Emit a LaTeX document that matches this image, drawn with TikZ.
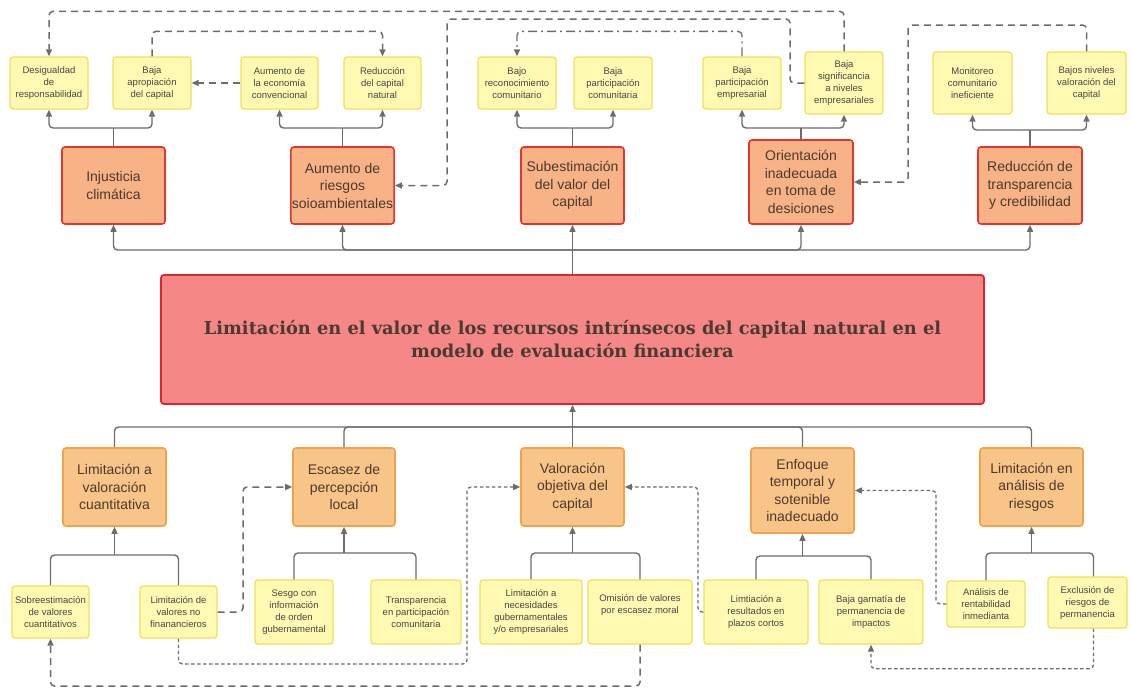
\documentclass[tikz,border=0pt]{standalone}
\usepackage{fontspec}
\setmainfont{Liberation Sans}
\newfontfamily\titlefont{DejaVu Serif}
\usetikzlibrary{arrows.meta}
\definecolor{yfill}{HTML}{FFF9B2}
\definecolor{yline}{HTML}{F0E05A}
\definecolor{tfill}{HTML}{F7B285}
\definecolor{tline}{HTML}{E2352C}
\definecolor{bfill}{HTML}{F9C487}
\definecolor{bline}{HTML}{EFA447}
\definecolor{cfill}{HTML}{F58787}
\definecolor{cline}{HTML}{E0242B}
\definecolor{txt}{HTML}{474747}
\definecolor{ttxt}{HTML}{4A3A30}
\definecolor{conn}{HTML}{6C6C6C}
\begin{document}
\begin{tikzpicture}[x=1pt,y=-1pt,
  sz/.style 2 args={minimum width=#1pt, minimum height=#2pt},
  ybox/.style={draw=yline, fill=yfill, line width=1.3pt, rounded corners=3pt, align=center, inner sep=1pt, text=txt, font=\fontsize{9.5}{12}\selectfont},
  tbox/.style={draw=tline, fill=tfill, line width=1.6pt, rounded corners=3pt, align=center, inner sep=1pt, text=ttxt, font=\fontsize{14}{17.5}\selectfont},
  bbox/.style={draw=bline, fill=bfill, line width=1.6pt, rounded corners=3pt, align=center, inner sep=1pt, text=ttxt, font=\fontsize{14}{17.5}\selectfont},
  cbox/.style={draw=cline, fill=cfill, line width=1.8pt, rounded corners=3pt, align=center, inner sep=1pt, text=ttxt, font=\titlefont\bfseries\fontsize{17.8}{23}\selectfont},
  line/.style={draw=conn, line width=1.4pt, rounded corners=4pt},
  arr/.style={line, -{Triangle[length=7pt,width=6pt]}},
  dashlong/.style={arr, line width=1.5pt, dash pattern=on 7pt off 5pt},
  dashshort/.style={arr, line width=1.3pt, dash pattern=on 3.5pt off 2.5pt},
  dashdot/.style={arr, line width=1.3pt, dash pattern=on 9pt off 4pt on 2pt off 4pt},
]
\useasboundingbox (0,0) rectangle (1132,688);

% ---------- top yellow boxes
\node[ybox, sz={78}{52}] (d1) at (49,83) {Desigualdad\\de\\responsabilidad};
\node[ybox, sz={78}{52}] (d2) at (152,83) {Baja\\apropiación\\del capital};
\node[ybox, sz={77}{52}] (d3) at (279.5,83) {Aumento de\\la economía\\convencional};
\node[ybox, sz={77}{52}] (d4) at (382.5,83) {Reducción\\del capital\\natural};
\node[ybox, sz={78}{52}] (d5) at (517,83) {Bajo\\reconocimiento\\comunitario};
\node[ybox, sz={78}{52}] (d6) at (613,83) {Baja\\participación\\comunitaria};
\node[ybox, sz={78}{52}] (d7) at (742,83) {Baja\\participación\\empresarial};
\node[ybox, sz={78}{62}] (d8) at (844,83) {Baja\\significancia\\a niveles\\empresariales};
\node[ybox, sz={79}{62}] (d9) at (972.5,83) {Monitoreo\\comunitario\\ineficiente};
\node[ybox, sz={79}{62}] (d10) at (1086.5,83) {Bajos niveles\\valoración del\\capital};

% ---------- top orange boxes
\node[tbox, sz={103}{77}] (t1) at (113.5,185.5) {Injusticia\\climática};
\node[tbox, sz={103}{77}] (t2) at (342.5,185.5) {Aumento de\\riesgos\\soioambientales};
\node[tbox, sz={103}{77}] (t3) at (572.5,185.5) {Subestimación\\del valor del\\capital};
\node[tbox, sz={104}{84}] (t4) at (801,182) {Orientación\\inadecuada\\en toma de\\desiciones};
\node[tbox, sz={104}{77}] (t5) at (1030,185.5) {Reducción de\\transparencia\\y credibilidad};

% ---------- central box
\node[cbox, sz={823}{129}] (c) at (572.5,339.5) {Limitación en el valor de los recursos intrínsecos del capital natural en el\\modelo de evaluación financiera};

% ---------- bottom orange boxes
\node[bbox, sz={103}{78}] (b1) at (114.5,487) {Limitación a\\valoración\\cuantitativa};
\node[bbox, sz={102}{78}] (b2) at (344,487) {Escasez de\\percepción\\local};
\node[bbox, sz={103}{78}] (b3) at (572.5,487) {Valoración\\objetiva del\\capital};
\node[bbox, sz={103}{85}] (b4) at (802.5,490.5) {Enfoque\\temporal y\\sotenible\\inadecuado};
\node[bbox, sz={103}{78}] (b5) at (1031.5,487) {Limitación en\\análisis de\\riesgos};

% ---------- bottom yellow boxes
\node[ybox, sz={77}{52}] (e1) at (50.5,612) {Sobreestimación\\de valores\\cuantitativos};
\node[ybox, sz={77}{52}] (e2) at (178.5,612) {Limitación de\\valores no\\finanancieros};
\node[ybox, sz={78}{64}] (e3) at (294,612) {Sesgo con\\información\\de orden\\gubernamental};
\node[ybox, sz={90}{64}] (e4) at (416,612) {Transparencia\\en participación\\comunitaria};
\node[ybox, sz={102}{64}] (e5) at (531,612) {Limitación a\\necesidades\\gubernamentales\\y/o empresariales};
\node[ybox, sz={104}{64}] (e6) at (640,612) {Omisión de valores\\por escasez moral\\[5pt]};
\node[ybox, sz={104}{64}] (e7) at (756,612) {Limtiación a\\resultados en\\plazos cortos};
\node[ybox, sz={104}{64}] (e8) at (871,612) {Baja garnatía de\\permanencia de\\impactos};
\node[ybox, sz={78}{46}] (e9) at (986,604) {Análisis de\\rentabilidad\\inmedianta};
\node[ybox, sz={79}{51}] (e10) at (1087.5,602.5) {Exclusión de\\riesgos de\\permanencia};

% ---------- top trees
\coordinate (j1) at (113.5,128);
\coordinate (j2) at (342.5,128);
\coordinate (j3) at (572.5,128);
\coordinate (j4) at (801,128);
\coordinate (j5) at (1030,130);
\draw[line] (t1.north) -- (j1);
\draw[arr] (j1) -| (d1.south);
\draw[arr] (j1) -| (d2.south);
\draw[line] (t2.north) -- (j2);
\draw[arr] (j2) -| (d3.south);
\draw[arr] (j2) -| (d4.south);
\draw[line] (t3.north) -- (j3);
\draw[arr] (j3) -| (d5.south);
\draw[arr] (j3) -| (d6.south);
\draw[line] (t4.north) -- (j4);
\draw[arr] (j4) -| (d7.south);
\draw[arr] (j4) -| (d8.south);
\draw[line] (t5.north) -- (j5);
\draw[arr] (j5) -| (d9.south);
\draw[arr] (j5) -| (d10.south);

% ---------- top bus
\coordinate (tb) at (572.5,250);
\draw[line] (c.north) -- (tb);
\draw[arr] (tb) -| (t1.south);
\draw[arr] (tb) -| (t2.south);
\draw[arr] (tb) -- (t3.south);
\draw[arr] (tb) -| (t4.south);
\draw[arr] (tb) -| (t5.south);

% ---------- bottom bus
\coordinate (bb) at (572.5,427);
\draw[line] (b1.north) |- (bb);
\draw[line] (b2.north) |- (bb);
\draw[line] (b3.north) -- (bb);
\draw[line] (b4.north) |- (bb);
\draw[line] (b5.north) |- (bb);
\draw[arr] (bb) -- (c.south);

% ---------- bottom trees
\coordinate (k1) at (114.5,555);
\coordinate (k2) at (344,553);
\coordinate (k3) at (572.5,553);
\coordinate (k4) at (802.5,556);
\coordinate (k5) at (1031.5,553);
\draw[line] (e1.north) |- (k1) -| (e2.north);
\draw[arr] (k1) -- (b1.south);
\draw[line] (e3.north) |- (k2) -| (e4.north);
\draw[arr] (k2) -- (b2.south);
\draw[line] (e5.north) |- (k3) -| (e6.north);
\draw[arr] (k3) -- (b3.south);
\draw[line] (e7.north) |- (k4) -| (e8.north);
\draw[arr] (k4) -- (b4.south);
\draw[line] (e9.north) |- (k5) -| ([xshift=6pt]e10.north);
\draw[arr] (k5) -- (b5.south);

% ---------- top cross links
\draw[dashlong] (d8.north) -- ++(0,-40) -| (d1.north);
\draw[dashlong] (d8.west) -| (790,19) -- (447,19) |- (t2.east);
\draw[dashdot] (d7.north) -- ++(0,-25) -| (d5.north);
\draw[dashlong] (d2.north) -- ++(0,-25) -| (d4.north);
\draw[dashlong] (d3.west) -- (d2.east);
\draw[dashlong] (d10.north) |- (908,25) |- (t4.east);

% ---------- bottom cross links
\draw[dashlong] (e2.east) -| (243,487) -- (b2.west);
\draw[dashshort] (e2.south) |- (467,664) |- (b3.west);
\draw[dashlong] (e6.south) |- (300,686) -| (e1.south);
\draw[dashshort] (e7.west) -| (698,487) -- (b3.east);
\draw[dashshort] (e9.west) -| (936,490.5) -- (b4.east);
\draw[dashshort] ([xshift=6pt]e10.south) -- ++(0,40) -| (e8.south);
\end{tikzpicture}
\end{document}
